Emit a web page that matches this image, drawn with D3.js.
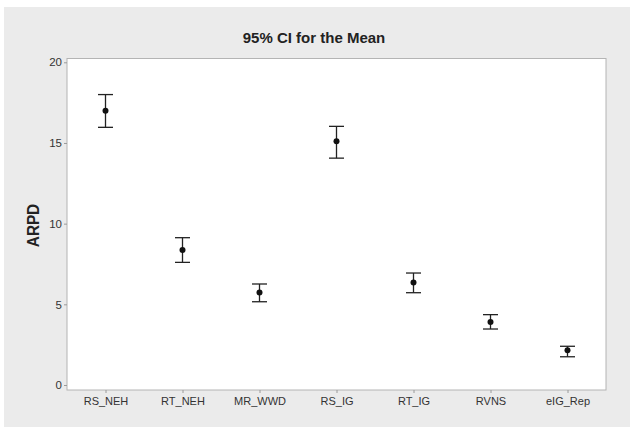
<!DOCTYPE html>
<html><head><meta charset="utf-8">
<script src="https://cdn.jsdelivr.net/npm/d3@7"></script>
<style>body{margin:0;background:#fff;} svg{display:block;}</style>
</head><body>
<svg id="c" width="630" height="427"></svg>
<script>
const categories = ["RS_NEH","RT_NEH","MR_WWD","RS_IG","RT_IG","RVNS","eIG_Rep"];
const means = [17.0, 8.36, 5.74, 15.1, 6.36, 3.9, 2.15];
const lower = [15.97, 7.6, 5.16, 14.06, 5.72, 3.47, 1.75];
const upper = [18.0, 9.13, 6.26, 16.03, 6.94, 4.36, 2.4];
const yTicks = [0, 5, 10, 15, 20];

const svg = d3.select("#c");
const W = 630, H = 427;
const m = {left: 67, right: 606, top: 58.5, bottom: 390};
const font = "'Liberation Sans', Arial, sans-serif";

svg.append("rect").attr("x", 4).attr("y", 7).attr("width", W - 4).attr("height", H - 7).attr("fill", "#ebebeb");
svg.append("rect").attr("x", m.left).attr("y", m.top).attr("width", m.right - m.left).attr("height", m.bottom - m.top)
  .attr("fill", "#fff").attr("stroke", "#b4b4b4").attr("stroke-width", 1);

const x = d3.scalePoint().domain(categories).range([m.left, m.right]).padding(0.5);
const y = d3.scaleLinear().domain([0, 20]).range([385, 62.3]);

const yAxis = svg.append("g").attr("transform", `translate(${m.left},0)`)
  .call(d3.axisLeft(y).tickValues(yTicks).tickSize(3).tickPadding(2));
yAxis.select(".domain").remove();
yAxis.selectAll("line").attr("stroke", "#9a9a9a");
yAxis.selectAll("text").attr("font-family", font).attr("font-size", 11.5).attr("fill", "#333");

const xAxis = svg.append("g").attr("transform", `translate(0,${m.bottom})`)
  .call(d3.axisBottom(x).tickSize(3).tickPadding(4));
xAxis.select(".domain").remove();
xAxis.selectAll("line").attr("stroke", "#9a9a9a");
xAxis.selectAll("text").attr("font-family", font).attr("font-size", 11).attr("fill", "#333");

const g = svg.append("g");
categories.forEach((c, i) => {
  const cx = x(c);
  g.append("line").attr("x1", cx).attr("x2", cx).attr("y1", y(lower[i])).attr("y2", y(upper[i]))
    .attr("stroke", "#222").attr("stroke-width", 1.3);
  [lower[i], upper[i]].forEach(v => {
    g.append("line").attr("x1", cx - 7.5).attr("x2", cx + 7.5).attr("y1", y(v)).attr("y2", y(v))
      .attr("stroke", "#222").attr("stroke-width", 1.3);
  });
  g.append("circle").attr("cx", cx).attr("cy", y(means[i])).attr("r", 3).attr("fill", "#111");
});

svg.append("text").attr("x", 314).attr("y", 42.5).attr("text-anchor", "middle")
  .attr("font-family", font).attr("font-size", 15).attr("font-weight", "bold").attr("fill", "#222")
  .text("95% CI for the Mean");

svg.append("text").attr("transform", `translate(39,225.5) rotate(-90) scale(0.9,1)`).attr("text-anchor", "middle")
  .attr("font-family", font).attr("font-size", 17).attr("font-weight", "bold").attr("fill", "#222")
  .text("ARPD");
</script>
</body></html>
